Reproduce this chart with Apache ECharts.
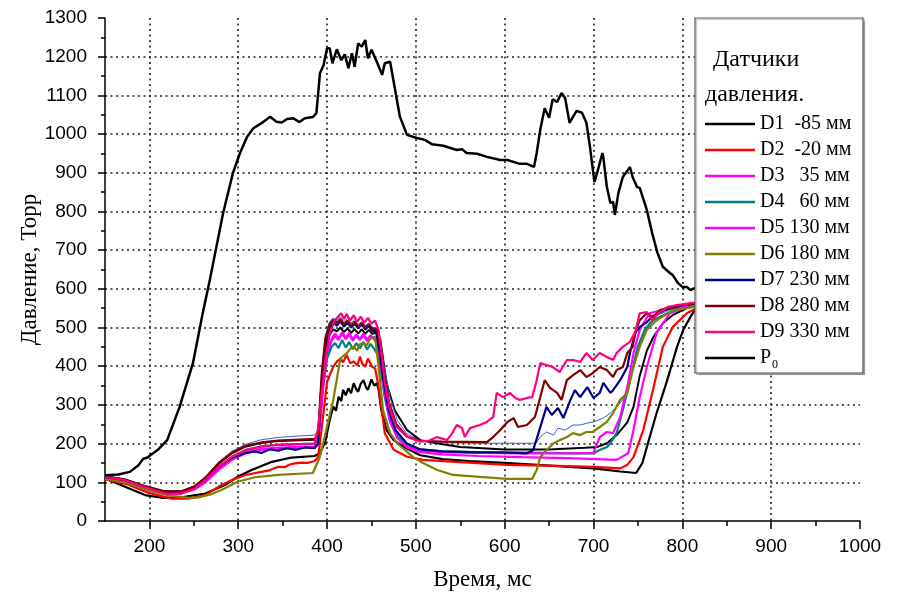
<!DOCTYPE html>
<html>
<head>
<meta charset="utf-8">
<script src="https://cdn.jsdelivr.net/npm/echarts@6/dist/echarts.min.js"></script>
<style>
html,body{margin:0;padding:0;background:#fff;}
#chart{width:901px;height:596px;}
</style>
</head>
<body>
<div id="chart"></div>
<script>
// ---- tick labels ----
const xTicks = [200, 300, 400, 500, 600, 700, 800, 900, 1000];
const xMinorTicks = [250, 350, 450, 550, 650, 750, 850, 950];
const legendNames = ['D1  -85 мм', 'D2  -20 мм', 'D3   35 мм', 'D4   60 мм', 'D5 130 мм', 'D6 180 мм', 'D7 230 мм', 'D8 280 мм', 'D9 330 мм', 'P0'];

// ---- series values: [time ms, pressure Torr] ----
const P0 = [[150,118],[165,120],[178,127],[188,145],[193,161],[198,164],[201,170],[210,185],[220,209],[234,295],[249,408],[260,537],[268,623],[283,796],[294,899],[302,951],[310,993],[317,1015],[328,1031],[336,1045],[343,1032],[349,1030],[355,1039],[362,1041],[369,1031],[375,1041],[384,1044],[388,1054],[392,1157],[396,1178],[400,1222],[403,1222],[406,1183],[411,1219],[416,1191],[420,1206],[424,1170],[428,1209],[431,1174],[435,1234],[439,1226],[443,1243],[446,1196],[450,1218],[456,1187],[462,1153],[465,1183],[471,1187],[474,1148],[482,1045],[490,998],[501,990],[510,985],[518,974],[531,970],[546,959],[552,961],[557,951],[569,949],[580,941],[595,933],[603,933],[617,923],[625,923],[633,915],[636,951],[640,1011],[645,1067],[650,1042],[654,1090],[659,1083],[664,1106],[668,1093],[673,1029],[677,1045],[681,1060],[687,1055],[692,1029],[696,967],[701,876],[704,899],[710,951],[711,941],[715,863],[719,822],[722,825],[724,791],[728,848],[733,889],[738,905],[741,915],[744,889],[749,863],[752,861],[760,804],[766,744],[772,693],[778,657],[786,641],[789,636],[795,615],[800,605],[805,605],[809,597],[814,602],[830,598]];

const D1 = [[150,110],[172,89],[195,67],[214,60],[236,61],[263,71],[285,93],[300,115],[315,132],[338,153],[360,164],[386,168],[392,175],[398,205],[403,261],[407,296],[410,285],[413,321],[416,310],[418,339],[421,325],[424,343],[427,330],[430,356],[433,340],[435,334],[438,355],[441,364],[444,345],[446,339],[450,366],[453,350],[456,356],[458,339],[461,287],[467,235],[475,209],[486,192],[505,170],[530,160],[560,155],[600,150],[650,143],[700,136],[730,128],[748,124],[755,150],[760,191],[771,279],[783,364],[794,450],[801,494],[809,527],[816,553],[830,560]];

const D2 = [[150,108],[175,95],[200,72],[225,58],[244,58],[263,67],[278,89],[293,106],[308,119],[326,127],[335,131],[345,140],[352,139],[358,146],[364,149],[372,151],[378,150],[386,155],[390,165],[395,260],[400,360],[407,399],[411,412],[415,420],[418,410],[422,429],[426,408],[430,412],[434,402],[437,425],[440,405],[443,399],[446,420],[448,416],[451,398],[454,395],[457,360],[460,313],[465,227],[475,184],[490,166],[508,158],[550,152],[603,145],[650,143],[700,140],[730,136],[738,145],[745,165],[756,235],[767,339],[778,450],[789,501],[805,537],[816,550],[830,556]];

const D3 = [[150,112],[172,104],[195,85],[215,72],[236,72],[251,82],[263,100],[278,132],[293,158],[308,175],[326,184],[345,188],[386,190],[390,200],[395,330],[400,430],[405,465],[409,478],[413,468],[417,485],[421,470],[425,482],[429,466],[433,478],[437,468],[441,480],[445,465],[449,478],[453,470],[457,460],[461,400],[465,330],[471,260],[479,215],[490,190],[505,178],[530,172],[570,168],[620,165],[680,162],[726,158],[739,175],[745,235],[752,320],[760,398],[771,486],[786,537],[805,553],[830,562]];

const D4 = [[150,113],[172,105],[195,86],[215,74],[236,73],[251,85],[263,105],[278,140],[293,166],[308,183],[326,193],[345,197],[386,200],[390,210],[395,340],[400,420],[405,450],[409,460],[413,447],[417,468],[421,448],[425,463],[429,444],[433,460],[437,446],[441,463],[445,443],[449,458],[453,445],[457,430],[461,380],[465,320],[471,255],[479,220],[490,198],[505,185],[530,180],[570,178],[620,177],[680,175],[700,175],[708,185],[715,191],[719,201],[726,227],[733,287],[741,364],[749,442],[758,494],[767,519],[790,545],[830,562]];

const D5 = [[150,112],[172,103],[195,84],[215,71],[236,71],[251,83],[263,103],[278,136],[293,162],[308,178],[326,186],[345,190],[386,192],[390,205],[395,340],[400,440],[405,470],[409,485],[413,472],[417,488],[421,474],[425,486],[429,470],[433,482],[437,471],[441,484],[445,468],[449,480],[453,472],[457,455],[461,395],[465,325],[471,258],[479,215],[490,192],[505,182],[530,178],[570,176],[620,175],[680,175],[700,176],[704,200],[707,217],[715,230],[722,227],[730,269],[738,346],[745,434],[752,494],[763,537],[790,553],[830,562]];

const D6 = [[150,110],[175,98],[200,78],[225,65],[245,60],[255,61],[268,68],[281,80],[300,102],[319,113],[345,119],[384,124],[392,166],[400,244],[407,313],[415,420],[422,433],[426,445],[430,451],[434,440],[437,458],[441,459],[445,455],[448,470],[450,472],[454,476],[458,399],[463,287],[471,227],[479,201],[497,165],[508,150],[524,132],[542,119],[572,114],[603,109],[631,109],[636,132],[640,165],[647,183],[655,201],[662,209],[670,217],[677,227],[685,222],[692,230],[699,230],[707,243],[715,256],[722,279],[730,313],[738,331],[745,398],[752,450],[760,494],[771,519],[790,545],[830,560]];

const D7 = [[150,113],[172,106],[195,88],[215,75],[236,74],[251,86],[263,107],[278,140],[293,163],[308,175],[318,180],[326,176],[335,185],[345,182],[355,188],[365,184],[375,190],[386,188],[390,200],[394,360],[398,460],[403,500],[407,512],[411,505],[415,516],[419,503],[423,512],[427,500],[431,510],[435,498],[439,508],[443,495],[447,504],[451,492],[455,490],[459,440],[463,370],[469,290],[477,235],[490,200],[505,185],[530,180],[560,178],[600,177],[625,175],[632,183],[638,227],[647,295],[653,274],[660,292],[666,266],[674,313],[679,338],[685,320],[693,346],[700,318],[707,331],[711,357],[719,331],[722,338],[730,364],[738,398],[741,434],[747,486],[752,501],[760,514],[767,530],[780,545],[800,558],[830,565]];

const D8 = [[150,115],[172,107],[195,90],[215,78],[236,77],[251,90],[263,112],[278,150],[293,177],[308,194],[326,203],[345,208],[386,212],[390,225],[394,380],[398,470],[403,510],[407,520],[411,512],[415,522],[419,508],[423,518],[427,505],[431,515],[435,502],[439,512],[443,500],[447,508],[451,498],[456,495],[460,450],[464,380],[470,305],[478,250],[490,218],[505,207],[530,205],[580,204],[587,217],[595,235],[603,256],[610,266],[615,243],[625,248],[634,269],[640,320],[645,364],[651,344],[659,331],[664,313],[670,364],[677,377],[685,390],[692,372],[699,382],[707,398],[715,390],[722,372],[726,390],[733,398],[738,434],[744,450],[747,486],[752,519],[760,537],[767,527],[775,545],[790,555],[810,562],[830,568]];

const D9 = [[150,114],[172,106],[195,87],[218,71],[236,71],[251,84],[263,106],[278,140],[293,166],[308,183],[326,192],[345,197],[386,200],[390,240],[394,330],[398,416],[403,485],[409,519],[413,530],[416,537],[419,522],[422,535],[426,518],[430,532],[434,515],[438,528],[442,512],[446,525],[450,510],[454,518],[458,494],[461,442],[465,356],[471,287],[478,244],[490,218],[505,205],[515,208],[524,217],[535,209],[541,227],[546,248],[552,240],[555,217],[561,240],[572,248],[580,256],[587,269],[591,331],[598,320],[606,331],[612,318],[617,313],[625,318],[631,320],[636,364],[640,408],[647,403],[654,398],[662,385],[670,416],[677,416],[685,411],[692,434],[699,416],[707,434],[715,424],[722,416],[726,434],[733,450],[741,463],[747,489],[752,537],[760,540],[766,519],[773,537],[783,553],[794,558],[809,563],[830,568]];

// unlabelled traces visible in the figure
const extraBlue = [[150,114],[172,107],[195,90],[215,78],[236,77],[251,90],[263,113],[278,152],[293,180],[308,198],[326,210],[345,216],[370,220],[386,222],[390,235],[394,390],[398,480],[403,515],[407,525],[411,518],[415,528],[419,515],[423,524],[427,512],[431,520],[435,508],[439,516],[443,505],[447,512],[451,500],[456,498],[460,460],[465,390],[471,320],[479,260],[490,225],[505,208],[530,202],[580,201],[635,201],[640,217],[647,230],[655,222],[660,240],[668,235],[677,248],[685,248],[693,253],[700,256],[711,266],[719,279],[726,295],[733,313],[741,357],[749,450],[758,500],[770,530],[790,550],[830,565]];

const extraBlack = [[150,116],[172,108],[195,90],[215,77],[236,76],[251,89],[263,111],[278,148],[293,175],[308,192],[326,202],[345,207],[386,210],[390,225],[394,360],[398,445],[403,482],[407,495],[411,490],[415,500],[419,488],[423,498],[427,486],[431,496],[435,485],[439,495],[443,484],[447,494],[451,484],[456,488],[460,468],[467,356],[476,287],[490,235],[505,209],[523,201],[550,191],[600,185],[650,185],[690,189],[704,191],[715,201],[726,222],[738,255],[745,295],[752,375],[760,440],[767,474],[778,511],[789,532],[805,550],[816,558],[830,562]];

const seriesData = [D1, D2, D3, D4, D5, D6, D7, D8, D9, P0];
const seriesColors = ['#000000', '#ff0000', '#ff00ff', '#008080', '#ff00ff', '#808000', '#000080', '#800000', '#ff0080', '#000000'];

const chart = echarts.init(document.getElementById('chart'), null, {renderer: 'canvas'});

const series = [];
series.push({name: 'extraBlack', type: 'line', data: extraBlack, showSymbol: false, symbol: 'none',
  lineStyle: {color: '#000', width: 2}, z: 2, silent: true});
series.push({name: 'extraBlue', type: 'line', data: extraBlue, showSymbol: false, symbol: 'none',
  lineStyle: {color: '#3a5fd0', width: 1}, z: 2, silent: true});
seriesData.forEach((d, i) => {
  series.push({
    name: legendNames[i], type: 'line', data: d, showSymbol: false, symbol: 'none',
    color: seriesColors[i],
    lineStyle: {color: seriesColors[i], width: i === 9 ? 2.5 : 2.2},
    z: 3, silent: true
  });
});

const serif = '"Liberation Serif", "Times New Roman", serif';
const sans = '"Liberation Sans", Arial, sans-serif';
const plain = v => String(v);
const gridStyle = {color: '#222', width: 1.6, type: [2, 3.5]};

chart.setOption({
  animation: false,
  backgroundColor: '#fff',
  grid: {left: 105, right: 41, top: 18, bottom: 75, containLabel: false},
  xAxis: [{
    type: 'value', min: 150, max: 1000,
    name: 'Время, мс', nameLocation: 'middle', nameGap: 47, nameMoveOverlap: false,
    nameTextStyle: {fontFamily: serif, fontSize: 23, color: '#000'},
    axisLine: {show: true, lineStyle: {color: '#000', width: 1.5}},
    axisTick: {show: true, length: 8, customValues: xTicks, lineStyle: {color: '#000', width: 1.5}},
    axisLabel: {customValues: xTicks, formatter: plain, fontFamily: sans, fontSize: 19, color: '#000', margin: 16},
    splitLine: {show: true, showMaxLine: false, lineStyle: gridStyle}
  }, {
    type: 'value', min: 150, max: 1000, position: 'bottom',
    axisLine: {show: false},
    axisTick: {show: true, length: 5, customValues: xMinorTicks, lineStyle: {color: '#000', width: 1.5}},
    axisLabel: {show: false},
    splitLine: {show: false}
  }],
  yAxis: {
    type: 'value', min: 0, max: 1300, interval: 100,
    name: 'Давление, Торр', nameLocation: 'middle', nameGap: 64, nameMoveOverlap: false,
    nameTextStyle: {fontFamily: serif, fontSize: 23, color: '#000'},
    axisLine: {show: true, lineStyle: {color: '#000', width: 1.5}},
    axisTick: {show: true, length: 7, lineStyle: {color: '#000', width: 1.5}},
    minorTick: {show: true, splitNumber: 2, length: 4, lineStyle: {color: '#000', width: 1.5}},
    axisLabel: {formatter: plain, fontFamily: sans, fontSize: 19, color: '#000', margin: 18},
    splitLine: {show: true, showMinLine: false, showMaxLine: false, lineStyle: gridStyle}
  },
  legend: {
    orient: 'vertical', left: 705, top: 111, itemWidth: 50, itemHeight: 2.5, itemGap: 0,
    icon: 'rect',
    data: legendNames, z: 20, padding: 0,
    formatter: function (n) { return n === 'P0' ? '{p|P}{s|0}' : n; },
    textStyle: {fontFamily: serif, fontSize: 20, lineHeight: 26, color: '#000',
      rich: {p: {fontFamily: serif, fontSize: 20, lineHeight: 26, color: '#000'},
             s: {fontFamily: serif, fontSize: 12, lineHeight: 26, color: '#000', padding: [14, 0, 0, 1]}}},
    selectedMode: false
  },
  graphic: [
    {type: 'rect', z: 10, shape: {x: 695, y: 18, width: 168, height: 355},
     style: {fill: '#fff', stroke: '#555', lineWidth: 1.2, shadowColor: 'rgba(0,0,0,0.25)', shadowOffsetX: 1.5, shadowOffsetY: 1.5, shadowBlur: 1}},
    {type: 'text', z: 21, x: 713, y: 60,
     style: {text: 'Датчики', fontFamily: serif, fontSize: 24, fill: '#000', textVerticalAlign: 'middle'}},
    {type: 'text', z: 21, x: 705, y: 95,
     style: {text: 'давления.', fontFamily: serif, fontSize: 24, fill: '#000', textVerticalAlign: 'middle'}}
  ],
  series: series
});
</script>
</body>
</html>
